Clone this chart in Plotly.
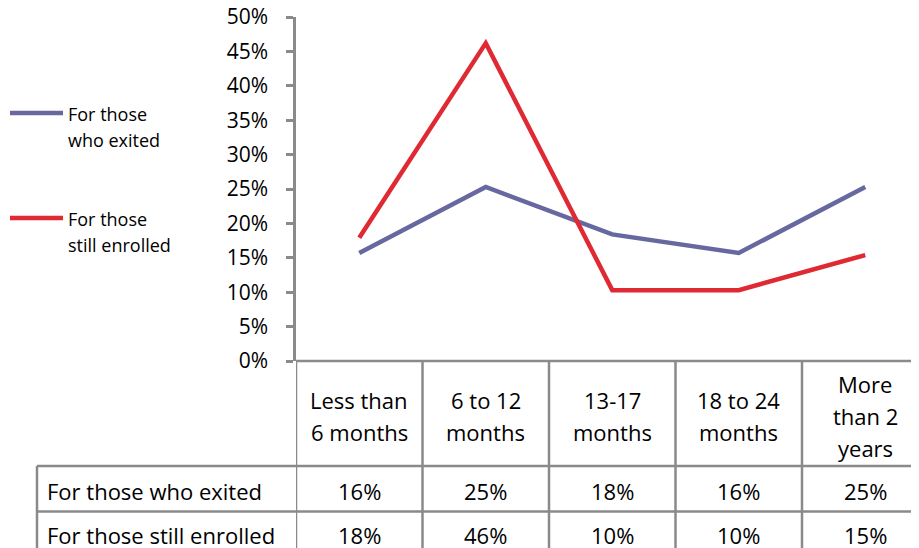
import plotly.graph_objects as go

categories = ["Less than\n6 months", "6 to 12\nmonths", "13-17\nmonths", "18 to 24\nmonths", "More\nthan 2\nyears"]
series_names = ["For those who exited", "For those still enrolled"]
legend_labels = ["For those\nwho exited", "For those\nstill enrolled"]
exited = [0.157, 0.253, 0.184, 0.157, 0.253]
enrolled = [0.179, 0.462, 0.103, 0.103, 0.154]
colors = ["#6868a0", "#e02a33"]
y_ticks = [0, 0.05, 0.10, 0.15, 0.20, 0.25, 0.30, 0.35, 0.40, 0.45, 0.50]

W, H = 919, 548
OFF = 8  # page body margin offset
FONT = "Open Sans"
GRAY = "#8a8a8a"

def py(sy):
    return 1 - (sy - OFF) / H

def px(sx):
    return (sx - OFF) / W

x_idx = list(range(len(categories)))
fig = go.Figure()
for name, vals, col in zip(series_names, [exited, enrolled], colors):
    fig.add_trace(go.Scatter(x=x_idx, y=vals, mode="lines", name=name,
                             line=dict(color=col, width=4.5), showlegend=False,
                             hoverinfo="skip"))

ax_left = 296
cat_w = 126.5
x_max = -0.5 + (W + OFF - ax_left) / cat_w

fig.update_layout(
    width=W, height=H,
    margin=dict(l=0, r=0, t=0, b=0, autoexpand=False),
    paper_bgcolor="white", plot_bgcolor="white",
    font=dict(family=FONT, size=22, color="black"),
    xaxis=dict(domain=[px(ax_left), 1], range=[-0.5, x_max], showticklabels=False,
               showgrid=False, zeroline=False, showline=False, automargin=False),
    yaxis=dict(domain=[py(361), py(17)], range=[0, 0.5], tickvals=y_ticks,
               tickformat=".0%", showgrid=False, zeroline=False, showline=True,
               linecolor=GRAY, linewidth=2.5, ticks="outside", ticklen=7,
               tickcolor=GRAY, tickwidth=2.5, ticklabelstandoff=14,
               automargin=False, ticklabeloverflow="allow",
               tickfont=dict(family=FONT, size=21)),
)

shapes = []
bottom = H + OFF + 10
shapes.append(dict(type="line", xref="x", yref="paper", x0=-0.5, x1=x_max,
                   y0=py(361), y1=py(361), line=dict(color=GRAY, width=2.5)))
for k in range(len(categories) + 1):
    shapes.append(dict(type="line", xref="x", yref="paper", x0=k - 0.5, x1=k - 0.5,
                       y0=py(361), y1=py(bottom), line=dict(color=GRAY, width=2.5)))
for yy in [466, 511.5]:
    shapes.append(dict(type="line", xref="paper", yref="paper", x0=px(37), x1=1.02,
                       y0=py(yy), y1=py(yy), line=dict(color=GRAY, width=2.5)))
shapes.append(dict(type="line", xref="paper", yref="paper", x0=px(37), x1=px(37),
                   y0=py(466), y1=py(bottom), line=dict(color=GRAY, width=2.5)))

annotations = []
LH = 32
for i, c in enumerate(categories):
    lines = c.split("\n")
    n = len(lines)
    for j, ln in enumerate(lines):
        cy = 416 + (j - (n - 1) / 2) * LH
        annotations.append(dict(x=i, xref="x", y=py(cy), yref="paper", text=ln,
                                showarrow=False, xanchor="center", yanchor="middle",
                                font=dict(family=FONT, size=22)))
row_y = [491, 535]
for name, vals, ry in zip(series_names, [exited, enrolled], row_y):
    annotations.append(dict(x=px(45), xref="paper", y=py(ry), yref="paper", text=name,
                            showarrow=False, xanchor="left", yanchor="middle",
                            font=dict(family=FONT, size=22)))
    for i, v in enumerate(vals):
        annotations.append(dict(x=i, xref="x", y=py(ry), yref="paper", text=f"{round(v * 100)}%",
                                showarrow=False, xanchor="center", yanchor="middle",
                                font=dict(family=FONT, size=22)))

leg_y = [113, 218]
for lab, col, ly in zip(legend_labels, colors, leg_y):
    shapes.append(dict(type="line", xref="paper", yref="paper", x0=px(10), x1=px(63),
                       y0=py(ly), y1=py(ly), line=dict(color=col, width=4.5)))
    for j, ln in enumerate(lab.split("\n")):
        annotations.append(dict(x=px(66), xref="paper", y=py(ly + 1 + j * 26.5), yref="paper", text=ln,
                                showarrow=False, xanchor="left", yanchor="middle",
                                font=dict(family=FONT, size=18)))

fig.update_layout(shapes=shapes, annotations=annotations)
fig.write_html("out.html")
